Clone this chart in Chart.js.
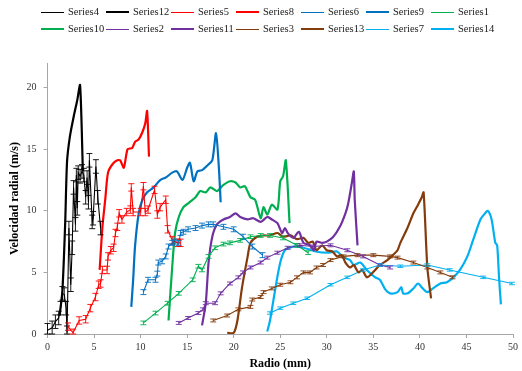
<!DOCTYPE html>
<html>
<head>
<meta charset="utf-8">
<script src="https://cdn.jsdelivr.net/npm/chart.js@4.4.1/dist/chart.umd.min.js"></script>
<style>
    html, body { margin: 0; padding: 0; background: #fff; }
    #wrap { position: relative; width: 522px; height: 371px; }
    #legend { position: absolute; left: 0; top: 0; width: 522px; height: 40px; font-family: "Liberation Serif", "Times New Roman", serif; font-size: 10.5px; color: #1a1a1a; }
    .item { position: absolute; height: 14px; line-height: 14px; white-space: nowrap; }
    .swatch { position: absolute; top: 7px; width: 23px; }
</style>
</head>
<body>
<div id="wrap">
    <canvas id="chart" width="522" height="371"></canvas>
    <div id="legend"></div>
</div>
<script>
// legend order (Excel draws it row by row)
const seriesNames = ['Series4', 'Series12', 'Series5', 'Series8', 'Series6', 'Series9', 'Series1',
                     'Series10', 'Series2', 'Series11', 'Series3', 'Series13', 'Series7', 'Series14'];
const xTicks = [0, 5, 10, 15, 20, 25, 30, 35, 40, 45, 50];
const yTicks = [0, 5, 10, 15, 20];

// thin series (with error bars)
const s4x = [0, 0.5, 0.85, 1.2, 1.4, 1.6, 1.8, 2.0, 2.1, 2.3, 2.5, 2.65, 2.8, 3.0, 3.1, 3.2, 3.3, 3.5, 3.7, 3.9, 4.1, 4.25, 4.4, 4.5, 4.8, 4.9, 5.2, 5.4, 5.7];
const s4y = [0.3, 0.5, 1.0, 1.3, 2.1, 3.3, 3.2, 2.1, 0.1, 8.6, 4.0, 7.0, 11.9, 8.9, 12.9, 10.2, 13.1, 12.8, 13.2, 12.9, 11.1, 12.7, 10.7, 14.1, 9.1, 9.4, 13.6, 11.1, 8.6];
const s5x = [2.2, 2.75, 3.4, 4.1, 4.6, 5.15, 5.5, 5.7, 5.9, 6.4, 6.5, 6.8, 7.1, 7.3, 7.5, 7.7, 8.0, 8.5, 8.9, 9.0, 9.2, 10.0, 10.3, 10.5, 10.8, 11.5, 11.8, 12.1, 12.7, 12.9, 13.4, 14.0, 14.3];
const s5y = [0.6, 0.1, 1.1, 1.2, 2.1, 3.0, 4.0, 4.1, 5.2, 5.2, 6.3, 6.8, 7.0, 8.2, 8.7, 9.8, 9.3, 9.9, 10.1, 11.9, 9.9, 9.9, 12.0, 9.9, 10.1, 11.7, 9.7, 10.3, 10.9, 8.5, 7.6, 7.4, 7.4];
const s6x = [10.3, 10.8, 11.6, 11.8, 11.9, 12.3, 12.7, 13.0, 13.4, 13.7, 14.1, 14.3, 14.6, 15.1, 15.9, 16.6, 17.3, 17.8, 18.9, 20.0, 21.0, 22.0, 23.1];
const s6y = [3.4, 4.4, 4.4, 4.9, 5.8, 5.9, 6.3, 7.1, 7.4, 7.5, 7.4, 8.2, 8.3, 8.5, 8.6, 8.8, 8.9, 8.9, 8.7, 8.5, 7.9, 7.1, 6.4];
const s1x = [10.3, 11.6, 12.9, 14.1, 15.6, 16.2, 16.6, 17.3, 18.0, 18.9, 19.6, 20.7, 21.8, 22.9, 23.9, 25.3, 26.8, 28.0];
const s1y = [0.9, 1.7, 2.5, 3.3, 4.4, 5.5, 5.2, 6.3, 7.0, 7.3, 7.4, 7.6, 7.9, 8.0, 8.0, 7.8, 7.2, 6.6];
const s2x = [14.1, 15.1, 16.2, 16.7, 17.0, 18.0, 18.6, 19.6, 20.5, 21.0, 21.8, 22.9, 23.6, 24.7, 25.8, 27.1, 28.5, 30.4, 32.2, 33.9, 35.7, 36.8];
const s2y = [0.9, 1.3, 1.7, 2.0, 2.5, 2.5, 3.3, 4.1, 4.6, 5.0, 5.4, 5.8, 6.2, 6.6, 7.0, 7.2, 7.1, 7.2, 6.8, 6.3, 5.6, 5.4];
const s3x = [17.8, 19.3, 20.5, 21.8, 22.0, 22.9, 23.2, 24.1, 25.0, 26.1, 26.8, 27.5, 28.2, 28.9, 29.6, 30.4, 31.8, 33.3, 35.0, 36.8, 37.6, 39.3, 40.8, 42.2, 43.5];
const s3y = [1.1, 1.5, 2.0, 2.2, 2.8, 3.0, 3.4, 3.7, 4.0, 4.2, 4.6, 5.0, 5.0, 5.4, 5.6, 6.0, 6.3, 6.4, 6.4, 6.3, 6.2, 5.8, 5.4, 5.0, 4.6];
const s7x = [23.9, 25.0, 26.4, 27.9, 30.4, 32.2, 33.9, 35.7, 37.9, 40.8, 43.2, 46.8, 49.9];
const s7y = [1.7, 2.1, 2.5, 2.9, 4.0, 4.6, 5.2, 5.6, 5.5, 5.6, 5.2, 4.6, 4.1];

// thick series
const s12x = [1.3, 1.6, 1.9, 2.1, 2.4, 2.8, 3.2, 3.5, 3.8];
const s12y = [1.5, 3.5, 9.0, 14.0, 16.0, 17.6, 19.0, 20.2, 13.2];
const s8x = [5.6, 5.9, 6.2, 6.5, 7.0, 7.5, 7.8, 8.2, 8.6, 9.1, 9.4, 9.8, 10.2, 10.5, 10.7, 10.9];
const s8y = [5.2, 8.7, 10.9, 13.1, 13.8, 14.1, 14.1, 13.5, 15.0, 15.1, 15.6, 15.8, 16.4, 17.1, 18.1, 14.4];
const s9x = [9.0, 9.2, 9.4, 9.8, 10.2, 10.7, 11.4, 12.1, 12.7, 13.4, 13.9, 14.5, 15.0, 15.3, 15.7, 16.1, 16.6, 17.2, 17.7, 18.1, 18.4, 18.6];
const s9y = [2.2, 4.4, 7.1, 9.8, 10.9, 11.5, 11.9, 12.5, 12.7, 13.1, 13.2, 12.5, 13.5, 13.9, 12.4, 13.2, 13.3, 13.7, 14.1, 16.3, 13.6, 10.7];
const s10x = [13.0, 13.4, 13.7, 14.1, 14.6, 15.1, 15.9, 16.4, 17.0, 17.5, 18.2, 18.9, 19.6, 20.2, 20.7, 21.2, 21.8, 22.3, 22.9, 23.2, 23.6, 24.1, 24.7, 25.0, 25.3, 25.6, 26.0];
const s10y = [1.1, 5.5, 8.2, 9.5, 10.3, 10.6, 11.1, 11.6, 11.5, 11.9, 11.6, 12.1, 12.4, 12.3, 11.9, 12.0, 11.1, 10.9, 9.4, 10.3, 9.7, 10.5, 10.1, 12.4, 12.8, 14.1, 9.0];
const s11x = [16.6, 17.0, 17.3, 17.7, 18.2, 18.9, 19.6, 20.2, 20.7, 21.5, 22.1, 22.9, 23.6, 24.1, 24.7, 25.2, 25.5, 25.8, 26.4, 27.0, 27.5, 28.2, 28.6, 28.9, 29.5, 30.0, 30.7, 31.4, 32.0, 32.3, 32.7, 32.9, 33.0, 33.3];
const s11y = [0.7, 2.5, 5.8, 7.9, 8.9, 9.3, 9.5, 9.8, 9.5, 9.3, 9.4, 9.1, 9.5, 9.3, 9.0, 8.2, 8.6, 8.2, 7.8, 8.3, 7.4, 7.2, 6.8, 7.5, 7.4, 7.5, 7.9, 8.7, 9.8, 10.6, 12.3, 13.2, 10.9, 7.2];
const s13x = [19.3, 20.0, 20.4, 20.9, 21.5, 21.8, 22.5, 23.2, 23.9, 24.7, 25.3, 26.1, 26.8, 27.5, 28.0, 28.5, 28.9, 29.5, 30.0, 30.6, 31.1, 31.6, 32.0, 32.5, 32.9, 33.4, 33.8, 34.3, 34.7, 35.2, 35.7, 36.5, 37.1, 37.6, 37.9, 38.6, 39.3, 39.8, 40.2, 40.4, 40.8, 41.2];
const s13y = [0.1, 0.1, 1.1, 3.8, 6.3, 7.4, 7.9, 8.0, 8.0, 8.2, 7.9, 8.0, 7.7, 7.8, 7.4, 7.5, 6.8, 7.2, 6.8, 6.7, 6.3, 6.4, 5.8, 5.4, 5.6, 5.0, 5.2, 4.6, 4.8, 5.2, 5.6, 6.0, 6.4, 6.8, 7.4, 8.5, 9.8, 10.5, 11.1, 11.5, 5.4, 2.9];
const s14x = [23.6, 23.9, 24.5, 25.0, 25.5, 26.4, 27.5, 28.8, 30.1, 31.1, 31.8, 32.5, 32.9, 33.6, 34.3, 35.2, 35.7, 36.3, 36.8, 37.6, 38.0, 38.2, 38.7, 39.3, 39.8, 40.3, 40.8, 41.4, 42.2, 42.9, 43.6, 44.3, 45.1, 45.7, 46.5, 47.0, 47.3, 47.7, 48.1, 48.3, 48.5, 48.7];
const s14y = [0.2, 1.1, 3.8, 5.8, 6.8, 7.1, 7.0, 6.7, 6.6, 6.7, 6.2, 6.0, 5.6, 5.8, 5.2, 4.6, 4.4, 3.6, 3.3, 3.4, 3.8, 3.3, 3.3, 3.7, 4.1, 3.7, 3.4, 3.7, 4.1, 4.2, 4.6, 5.2, 6.3, 7.6, 9.3, 9.8, 10.0, 9.3, 7.4, 7.2, 4.6, 2.4];

// half height of the error bars, per thin series
const errSize = { Series4: 0.55, Series5: 0.3, Series6: 0.2, Series1: 0.15, Series2: 0.12, Series3: 0.12, Series7: 0.1 };

const seriesData = {
    Series4: [s4x, s4y], Series12: [s12x, s12y], Series5: [s5x, s5y], Series8: [s8x, s8y],
    Series6: [s6x, s6y], Series9: [s9x, s9y], Series1: [s1x, s1y], Series10: [s10x, s10y],
    Series2: [s2x, s2y], Series11: [s11x, s11y], Series3: [s3x, s3y], Series13: [s13x, s13y],
    Series7: [s7x, s7y], Series14: [s14x, s14y]
};
const seriesColor = {
    Series4: '#000000', Series12: '#000000', Series5: '#ff0000', Series8: '#ff0000',
    Series6: '#0070c0', Series9: '#0070c0', Series1: '#00b050', Series10: '#00b050',
    Series2: '#7030a0', Series11: '#7030a0', Series3: '#843c0c', Series13: '#843c0c',
    Series7: '#00b0f0', Series14: '#00b0f0'
};

function toPoints(xs, ys) {
    return xs.map((x, i) => ({ x: x, y: ys[i] }));
}

const datasets = seriesNames.map(name => {
    const thin = errSize[name] !== undefined;
    return {
        label: name,
        data: toPoints(seriesData[name][0], seriesData[name][1]),
        borderColor: seriesColor[name],
        backgroundColor: seriesColor[name],
        borderWidth: thin ? 1.1 : 2.2,
        pointRadius: 0,
        tension: thin ? 0 : 0.25,
        fill: false,
        errorSize: thin ? errSize[name] : 0
    };
});

// vertical error bars with caps, drawn through the y scale
const errorBarPlugin = {
    id: 'errorBars',
    afterDatasetsDraw(chart) {
        const ctx = chart.ctx;
        const yScale = chart.scales.y;
        chart.data.datasets.forEach((ds, i) => {
            if (!ds.errorSize) return;
            const meta = chart.getDatasetMeta(i);
            ctx.save();
            ctx.strokeStyle = ds.borderColor;
            ctx.lineWidth = 0.9;
            meta.data.forEach((pt, j) => {
                const v = ds.data[j].y;
                const top = yScale.getPixelForValue(v + ds.errorSize);
                const bot = yScale.getPixelForValue(Math.max(0, v - ds.errorSize));
                ctx.beginPath();
                ctx.moveTo(pt.x, top); ctx.lineTo(pt.x, bot);
                ctx.moveTo(pt.x - 3, top); ctx.lineTo(pt.x + 3, top);
                ctx.moveTo(pt.x - 3, bot); ctx.lineTo(pt.x + 3, bot);
                ctx.stroke();
            });
            ctx.restore();
        });
    }
};

const tickFont = { family: '"Liberation Serif", "Times New Roman", serif', size: 10 };
const titleFont = { family: '"Liberation Serif", "Times New Roman", serif', size: 12, weight: 'bold' };

const chart = new Chart(document.getElementById('chart').getContext('2d'), {
    type: 'line',
    data: { datasets: datasets },
    options: {
        responsive: false,
        animation: false,
        layout: { padding: { top: 63, right: 9, bottom: 0, left: 0 } },
        plugins: {
            legend: { display: false },
            tooltip: { enabled: false }
        },
        scales: {
            x: {
                type: 'linear',
                min: 0,
                max: 50,
                afterFit: s => { s.height = 37; },
                afterBuildTicks: s => { s.ticks = xTicks.map(v => ({ value: v })); },
                border: { color: '#a6a6a6', width: 1 },
                grid: { drawOnChartArea: false, tickLength: 4, color: '#a6a6a6' },
                ticks: { font: tickFont, color: '#333', padding: 3, maxRotation: 0 },
                title: { display: true, text: 'Radio (mm)', font: titleFont, color: '#000', padding: { top: 0, bottom: 0 } }
            },
            y: {
                min: 0,
                max: 22,
                afterFit: s => { s.width = 47.5; },
                afterBuildTicks: s => { s.ticks = yTicks.map(v => ({ value: v })); },
                border: { color: '#a6a6a6', width: 1 },
                grid: { drawOnChartArea: false, tickLength: 4, color: '#a6a6a6' },
                ticks: { font: tickFont, color: '#333', padding: 7 },
                title: { display: true, text: 'Velocidad radial (m/s)', font: titleFont, color: '#000', padding: { top: 8, bottom: 0 } }
            }
        }
    },
    plugins: [errorBarPlugin]
});

// legend laid out on Excel's fixed grid: 7 columns, 2 rows
const legendEl = document.getElementById('legend');
chart.data.datasets.forEach((ds, i) => {
    const col = i % 7;
    const row = Math.floor(i / 7);
    const textLeft = 68 + col * 65;
    const item = document.createElement('div');
    item.className = 'item';
    item.style.left = (textLeft - 27) + 'px';
    item.style.top = (5 + row * 17) + 'px';
    item.style.paddingLeft = '27px';
    const sw = document.createElement('div');
    sw.className = 'swatch';
    sw.style.left = '0px';
    sw.style.borderTop = (ds.errorSize ? 1 : 2.5) + 'px solid ' + ds.borderColor;
    sw.style.top = (ds.errorSize ? 7 : 6) + 'px';
    item.appendChild(sw);
    item.appendChild(document.createTextNode(ds.label));
    legendEl.appendChild(item);
});
</script>
</body>
</html>
